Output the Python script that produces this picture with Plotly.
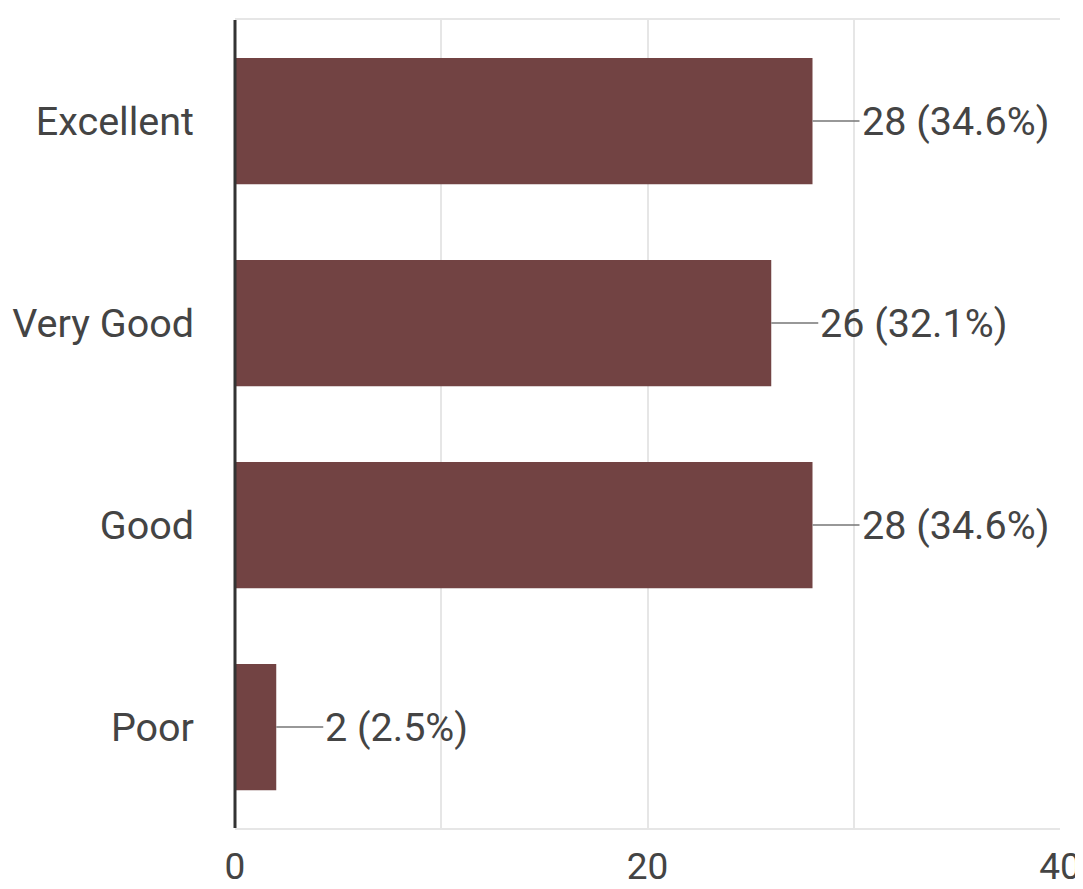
import plotly.graph_objects as go

categories = ["Excellent", "Very Good", "Good", "Poor"]
counts = [28, 26, 28, 2]
percents = [34.6, 32.1, 34.6, 2.5]
x_tickvals = [0, 20, 40]
x_ticktext = ["0", "20", "40"]

bar_color = "#724343"
text_color = "#444444"
font_family = "Roboto"
fs = 39.5

fig = go.Figure()
fig.add_trace(go.Bar(
    y=categories, x=counts, orientation="h",
    marker=dict(color=bar_color, line=dict(width=0)),
    hoverinfo="skip",
))

for c, v, p in zip(categories, counts, percents):
    fig.add_annotation(
        x=v, y=c, xref="x", yref="y",
        text=f"{v} ({p}%)",
        showarrow=True, arrowhead=0, arrowwidth=1.5, arrowcolor="#777777",
        ax=47, ay=0, standoff=0, xanchor="left",
        font=dict(family=font_family, size=fs, color=text_color),
    )

fig.update_layout(
    width=1075, height=881,
    margin=dict(l=227, r=23, t=12, b=61, autoexpand=False),
    paper_bgcolor="white", plot_bgcolor="white",
    showlegend=False, bargap=0.375,
    font=dict(family=font_family, size=fs, color=text_color),
)
fig.update_xaxes(
    range=[0, 40], tickvals=x_tickvals, ticktext=x_ticktext,
    showgrid=True, gridcolor="#e6e6e6", gridwidth=1.5,
    minor=dict(dtick=10, showgrid=True, gridcolor="#e6e6e6", gridwidth=1.5),
    zeroline=False, showline=True, linecolor="#e6e6e6", linewidth=1.5, mirror=True,
    ticks="", ticklabelstandoff=5, automargin=False,
    tickfont=dict(family=font_family, size=37, color=text_color),
)
fig.update_yaxes(
    categoryorder="array", categoryarray=categories, autorange="reversed",
    showgrid=False, zeroline=False, showline=False,
    ticks="", ticklabelstandoff=40, automargin=False,
    tickfont=dict(family=font_family, size=fs, color=text_color),
)
fig.add_shape(type="line", xref="paper", yref="paper", x0=0, x1=0, y0=0, y1=1,
              line=dict(color="#333333", width=3), layer="above")

fig.write_html("out.html")
